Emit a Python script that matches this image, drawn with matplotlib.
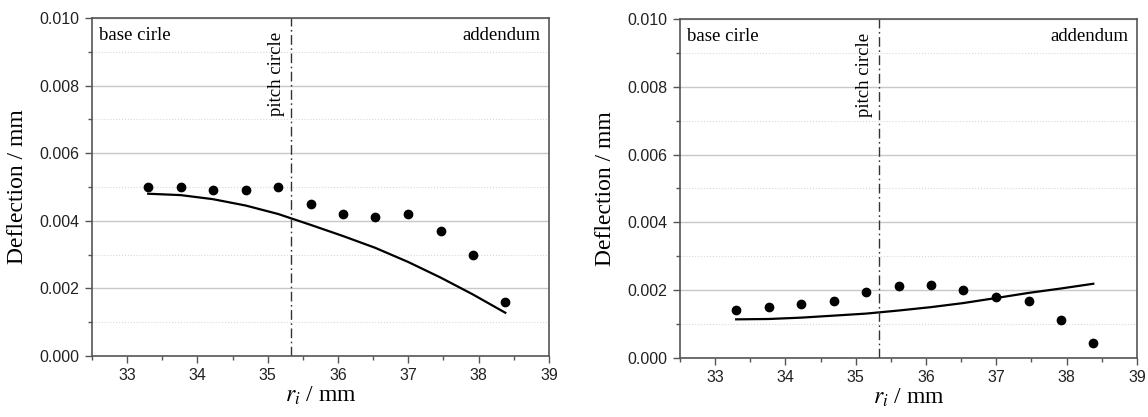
import numpy as np
import matplotlib
matplotlib.use("Agg")
import matplotlib.pyplot as plt
from matplotlib.ticker import MultipleLocator, FormatStrFormatter

plt.rcParams["mathtext.fontset"] = "stix"

# radius positions (mm)
r_i = [33.30, 33.76, 34.22, 34.69, 35.15, 35.61, 36.07, 36.53, 37.00, 37.46, 37.92, 38.38]

# left panel: measured points and computed curve
meas_left = [0.0050, 0.0050, 0.0049, 0.0049, 0.0050, 0.0045, 0.0042, 0.0041, 0.0042, 0.0037, 0.0030, 0.0016]
calc_left = [0.00480, 0.00476, 0.00464, 0.00445, 0.00420, 0.00388, 0.00355, 0.00320, 0.00278, 0.00232, 0.00182, 0.00128]

# right panel
meas_right = [0.00141, 0.00149, 0.00159, 0.00169, 0.00194, 0.00213, 0.00215, 0.00201, 0.00180, 0.00168, 0.00111, 0.00043]
calc_right = [0.00114, 0.00115, 0.00119, 0.00125, 0.00131, 0.00140, 0.00150, 0.00162, 0.00177, 0.00192, 0.00205, 0.00219]

pitch_x = 35.33

serif = "Liberation Serif"
sans = "Liberation Sans"

fig = plt.figure(figsize=(11.48, 4.17), dpi=100)
ax1 = fig.add_axes([0.0801, 0.1463, 0.398, 0.8106])
ax2 = fig.add_axes([0.5923, 0.1415, 0.398, 0.8130])

for ax, meas, calc in [(ax1, meas_left, calc_left), (ax2, meas_right, calc_right)]:
    ax.set_xlim(32.5, 39)
    ax.set_ylim(0, 0.010)
    ax.xaxis.set_major_locator(MultipleLocator(1))
    ax.xaxis.set_minor_locator(MultipleLocator(0.5))
    ax.yaxis.set_major_locator(MultipleLocator(0.002))
    ax.yaxis.set_minor_locator(MultipleLocator(0.001))
    ax.yaxis.set_major_formatter(FormatStrFormatter("%.3f"))

    ax.grid(which="major", axis="y", color="#c8c8c8", lw=1.0, ls="-")
    ax.grid(which="minor", axis="y", color="#d8d8d8", lw=0.8, ls=":")
    ax.set_axisbelow(True)

    ax.tick_params(which="major", direction="out", length=5, width=1.0,
                   pad=4, labelsize=11.5, labelcolor="#222222", color="#555555")
    ax.tick_params(which="minor", direction="out", length=3, width=1.0, color="#555555")
    for lab in ax.get_xticklabels() + ax.get_yticklabels():
        lab.set_fontfamily(sans)
    for sp in ax.spines.values():
        sp.set_color("#555555")
        sp.set_linewidth(1.2)

    ax.plot(r_i, calc, color="black", lw=1.6)
    ax.plot(r_i, meas, "o", color="black", ms=6)

    ax.axvline(pitch_x, color="#333333", lw=1.0, ls=(0, (7, 2.5, 1.2, 2.5)))
    ax.text(pitch_x - 0.08, 0.0096, "pitch circle", rotation=90, ha="right",
            va="top", family=serif, fontsize=13.5)
    ax.text(0.015, 0.972, "base cirle", transform=ax.transAxes, ha="left",
            va="top", family=serif, fontsize=13.5)
    ax.text(0.9825, 0.972, "addendum", transform=ax.transAxes, ha="right",
            va="top", family=serif, fontsize=13.5)

    ax.set_ylabel("Deflection / mm", family=serif, fontsize=17, labelpad=8)
    ax.set_xlabel(r"$r_i$ / mm", family=serif, fontsize=17, labelpad=1)

fig.savefig("out.png", dpi=100)
